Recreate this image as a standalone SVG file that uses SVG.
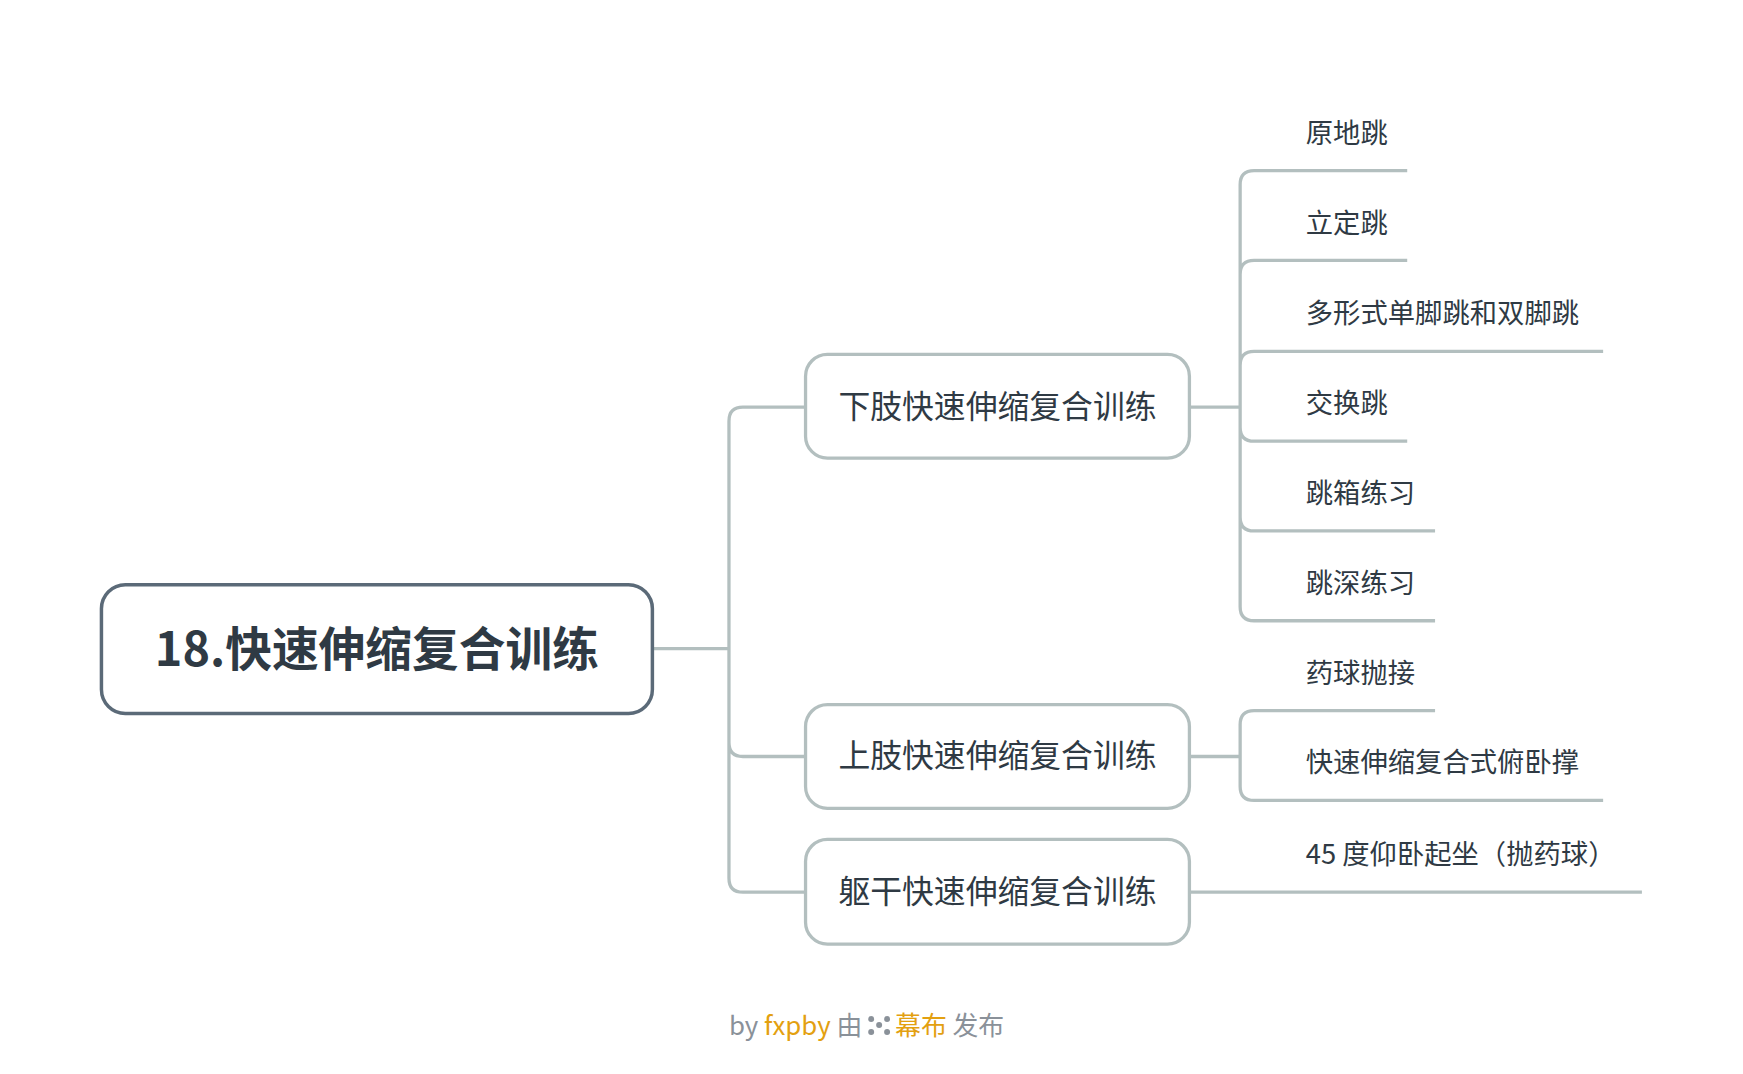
<svg xmlns="http://www.w3.org/2000/svg" width="1743" height="1074" viewBox="0 0 1743 1074">
<style>
.c{fill:none;stroke:#b3bfbf;stroke-width:3.3}
.b{fill:#fff;stroke:#b3bfbf;stroke-width:3.3}
text{font-family:"Noto Sans CJK SC","Noto Sans",sans-serif;fill:#2f3a44}
.l1{font-size:32px}
.lf{font-size:27.5px}
</style>
<rect width="1743" height="1074" fill="#fff"/>
<g transform="scale(0.9945 0.998)">
<g id="connectors">
<path class="c" d="M656 650H733M733 650V422Q733 408 747 408H810M733 650V744Q733 758 747 758H810M733 650V880Q733 894 747 894H810"/>
<path class="c" d="M1196 408H1247"/>
<path class="c" d="M1247 408V185Q1247 171 1261 171H1415M1247 408V275Q1247 261 1261 261H1415M1247 408V366Q1247 352 1261 352H1612M1247 408V428Q1247 442 1261 442H1415M1247 408V518Q1247 532 1261 532H1443M1247 408V608Q1247 622 1261 622H1443"/>
<path class="c" d="M1196 758H1247M1247 758V726Q1247 712 1261 712H1443M1247 758V788Q1247 802 1261 802H1612"/>
<path class="c" d="M1196 894H1651"/>
</g>
<g id="root"><rect x="102" y="586" width="554" height="129" rx="24" fill="#fff" stroke="#5b6a78" stroke-width="3.5"/><text x="379" y="667" text-anchor="middle" font-size="47" font-weight="bold">18.快速伸缩复合训练</text></g>
<g id="n1"><rect class="b" x="810" y="355" width="386" height="104" rx="22"/><text class="l1" x="1003" y="419" text-anchor="middle">下肢快速伸缩复合训练</text></g>
<g id="n2"><rect class="b" x="810" y="706" width="386" height="104" rx="22"/><text class="l1" x="1003" y="769" text-anchor="middle">上肢快速伸缩复合训练</text></g>
<g id="n3"><rect class="b" x="810" y="841" width="386" height="105" rx="22"/><text class="l1" x="1003" y="905" text-anchor="middle">躯干快速伸缩复合训练</text></g>
<g id="leaf1"><text class="lf" x="1313" y="143">原地跳</text></g>
<g id="leaf2"><text class="lf" x="1313" y="233">立定跳</text></g>
<g id="leaf3"><text class="lf" x="1313" y="324">多形式单脚跳和双脚跳</text></g>
<g id="leaf4"><text class="lf" x="1313" y="414">交换跳</text></g>
<g id="leaf5"><text class="lf" x="1313" y="504">跳箱练习</text></g>
<g id="leaf6"><text class="lf" x="1313" y="594">跳深练习</text></g>
<g id="leaf7"><text class="lf" x="1313" y="684">药球抛接</text></g>
<g id="leaf8"><text class="lf" x="1313" y="774">快速伸缩复合式俯卧撑</text></g>
<g id="leaf9"><text class="lf" x="1313" y="866">45 度仰卧起坐（抛药球）</text></g>
<g id="footer">
<text x="733" y="1037" font-size="26"><tspan fill="#8a9199">by </tspan><tspan fill="#e3a010">fxpby</tspan><tspan fill="#8a9199"> 由</tspan></text>
<g fill="#8a9199"><circle cx="876" cy="1021" r="3"/><circle cx="876" cy="1034" r="3"/><circle cx="884" cy="1027" r="3"/><circle cx="892" cy="1021" r="3"/><circle cx="892" cy="1034" r="3"/></g>
<text x="900" y="1037" font-size="26"><tspan fill="#e3a010">幕布</tspan><tspan fill="#8a9199"> 发布</tspan></text>
</g>
</g>
</svg>
